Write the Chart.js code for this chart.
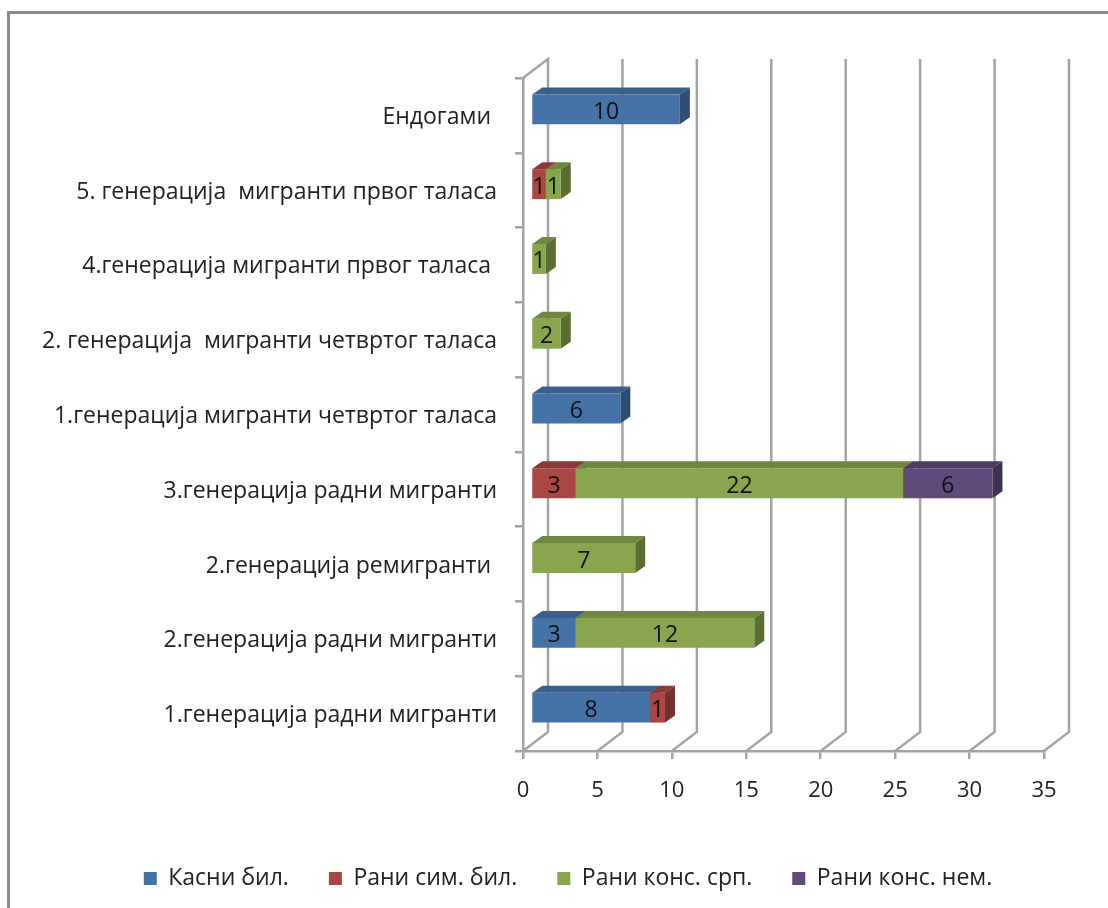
<!DOCTYPE html>
<html lang="sr">
<head>
<meta charset="utf-8">
<title>Генерације и језик</title>
<script src="https://cdn.jsdelivr.net/npm/chart.js@4"></script>
<style>
  html, body { margin: 0; padding: 0; background: #fff; overflow: hidden; }
  #wrap { position: relative; width: 1108px; height: 908px; }
  #frame { position: absolute; left: 7px; top: 11px; right: 0; bottom: 0;
           border-left: 3px solid #8c8c8c; border-top: 3px solid #8c8c8c; pointer-events: none; }
  canvas { position: absolute; left: 0; top: 0; }
</style>
</head>
<body>
<div id="wrap">
  <canvas id="chart" width="1108" height="908"></canvas>
  <div id="frame"></div>
</div>
<script>
const categories = [
  '1.генерација радни мигранти',
  '2.генерација радни мигранти',
  '2.генерација ремигранти ',
  '3.генерација радни мигранти',
  '1.генерација мигранти четвртог таласа',
  '2. генерација  мигранти четвртог таласа',
  '4.генерација мигранти првог таласа ',
  '5. генерација  мигранти првог таласа',
  'Ендогами '
];
const kasniBil    = [8, 3, null, null, 6, null, null, null, 10];
const raniSimBil  = [1, null, null, 3, null, null, null, 1, null];
const raniKonsSrp = [null, 12, 7, 22, null, 2, 1, 1, null];
const raniKonsNem = [null, null, null, 6, null, null, null, null, null];
const xTicksMax = 35;
const xTickStep = 5;

const FONT = '"Open Sans", sans-serif';
const WALL = { dx: 25, dy: -19 };     // shift from the axis plane to the back wall
const BAR_SHIFT = { dx: 8, dy: -6 };  // bars stand midway into the floor
const BAR_DEPTH = { dx: 10, dy: -7 }; // visible extrusion of each bar
const GRID = '#a3a3a3';

function series(label, data, front, top, side) {
  return { label, data, backgroundColor: front, borderWidth: 0, topColor: top, sideColor: side,
           stack: 's', barPercentage: 0.4, categoryPercentage: 1, clip: false };
}

// Back wall: a diagonal rising off each x tick, then a vertical line to the top.
function drawWall(chart) {
  const { ctx, scales: { x }, chartArea: a } = chart;
  ctx.save();
  ctx.strokeStyle = GRID;
  ctx.lineWidth = 2.5;
  x.ticks.forEach(t => {
    const px = x.getPixelForValue(t.value);
    ctx.beginPath();
    ctx.moveTo(px, a.bottom);
    ctx.lineTo(px + WALL.dx, a.bottom + WALL.dy);
    ctx.lineTo(px + WALL.dx, a.top + WALL.dy);
    if (t.value === 0) ctx.lineTo(px, a.top);
    ctx.stroke();
  });
  ctx.restore();
}

function poly(ctx, color, pts) {
  ctx.fillStyle = color;
  ctx.beginPath();
  pts.forEach((p, i) => i ? ctx.lineTo(p[0], p[1]) : ctx.moveTo(p[0], p[1]));
  ctx.closePath();
  ctx.fill();
}

const bars3d = {
  id: 'bars3d',
  // The long category names reach past the left layout padding; widen their clip box.
  afterLayout(chart) {
    chart.scales.y.left = 0;
  },
  beforeDatasetsDraw(chart) {
    const { ctx } = chart;
    drawWall(chart);
    ctx.save();
    ctx.translate(BAR_SHIFT.dx, BAR_SHIFT.dy);
    const { dx, dy } = BAR_DEPTH;
    chart.data.datasets.forEach((ds, i) => {
      chart.getDatasetMeta(i).data.forEach((el, j) => {
        if (!ds.data[j]) return;
        const { x, y, base, height } = el.getProps(['x', 'y', 'base', 'height']);
        const t = y - height / 2, b = y + height / 2;
        poly(ctx, ds.topColor, [[base, t], [x, t], [x + dx, t + dy], [base + dx, t + dy]]);
        poly(ctx, ds.sideColor, [[x, t], [x + dx, t + dy], [x + dx, b + dy], [x, b]]);
      });
    });
  },
  afterDatasetsDraw(chart) {
    const { ctx } = chart;
    ctx.font = '23px ' + FONT;
    ctx.fillStyle = '#111';
    ctx.textAlign = 'center';
    ctx.textBaseline = 'middle';
    chart.data.datasets.forEach((ds, i) => {
      chart.getDatasetMeta(i).data.forEach((el, j) => {
        if (!ds.data[j]) return;
        const { x, y, base } = el.getProps(['x', 'y', 'base']);
        ctx.fillText(String(ds.data[j]), (x + base) / 2, y + 3);
      });
    });
    ctx.restore();
  }
};

new Chart(document.getElementById('chart'), {
  type: 'bar',
  plugins: [bars3d],
  data: {
    labels: categories,
    datasets: [
      series('Касни бил.', kasniBil, '#4572a7', '#3a5f8b', '#2e4d73'),
      series('Рани сим. бил.', raniSimBil, '#aa4643', '#8c3836', '#713230'),
      series('Рани конс. срп.', raniKonsSrp, '#89a54e', '#6f8840', '#5a6e34'),
      series('Рани конс. нем.', raniKonsNem, '#604a7b', '#4c3b62', '#403152')
    ]
  },
  options: {
    indexAxis: 'y',
    responsive: false,
    animation: false,
    layout: { padding: { left: 92, right: 64, top: 78, bottom: 8 } },
    scales: {
      x: {
        stacked: true, min: 0, max: xTicksMax,
        ticks: { stepSize: xTickStep, color: '#222', padding: 19, maxRotation: 0,
                 font: { family: FONT, size: 22 } },
        grid: { drawOnChartArea: false, drawTicks: true, tickLength: 8, color: GRID, lineWidth: 2.5 },
        border: { color: GRID, width: 2.5 },
        afterFit(s) { s.height = 76; }
      },
      y: {
        stacked: true, reverse: true,
        ticks: { color: '#222', padding: 18, labelOffset: 2, autoSkip: false,
                 font: { family: FONT, size: 23 } },
        grid: { drawOnChartArea: false, drawTicks: true, tickLength: 8, color: GRID, lineWidth: 2.5, offset: true },
        border: { color: GRID, width: 2.5 },
        afterFit(s) { s.width = 431; }
      }
    },
    plugins: {
      tooltip: { enabled: false },
      legend: {
        position: 'bottom',
        labels: { boxWidth: 13, boxHeight: 13, padding: 40, color: '#222',
                  font: { family: FONT, size: 23 } }
      }
    }
  }
});
</script>
</body>
</html>
